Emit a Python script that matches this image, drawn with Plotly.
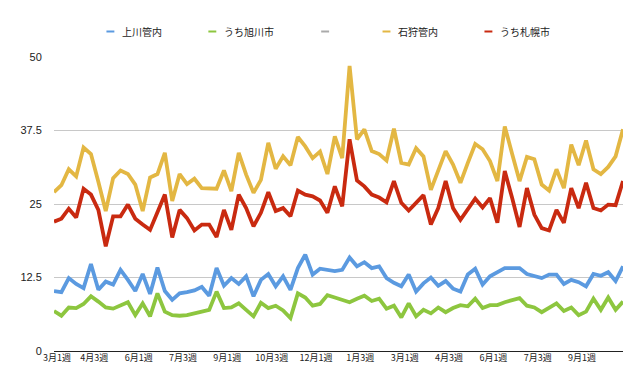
import plotly.graph_objects as go

# ---------------- data ----------------
week_index = list(range(78))
tick_labels = ["3月1週", "4月3週", "6月1週", "7月3週", "9月1週", "10月3週", "12月1週",
               "1月3週", "3月1週", "4月3週", "6月1週", "7月3週", "9月1週"]
y_ticks = [0, 12.5, 25, 37.5, 50]
y_tick_labels = ["0", "12.5", "25", "37.5", "50"]

kamikawa = [10.2, 10.0, 12.4, 11.4, 10.7, 14.8, 10.4, 11.8, 11.3, 13.8,
            12.1, 10.2, 13.1, 9.7, 14.2, 10.2, 8.7, 9.8, 10.0, 10.3,
            10.9, 9.4, 14.1, 11.1, 12.4, 11.4, 12.7, 9.3, 12.1, 13.1,
            11.0, 12.7, 10.4, 14.1, 16.4, 13.0, 14.0, 13.8, 13.6, 13.8,
            15.9, 14.4, 15.1, 14.1, 14.4, 12.4, 11.6, 11.0, 13.0, 10.1,
            11.5, 12.5, 11.1, 11.9, 10.6, 10.1, 13.0, 14.0, 11.3, 12.7,
            13.4, 14.1, 14.1, 14.1, 13.1, 12.8, 12.4, 13.0, 13.0, 11.4,
            12.1, 11.7, 11.0, 13.1, 12.8, 13.4, 11.9, 14.4]

asahikawa = [6.8, 6.0, 7.4, 7.3, 8.0, 9.3, 8.4, 7.4, 7.2, 7.8,
             8.3, 6.1, 8.1, 5.9, 9.8, 6.7, 6.1, 6.0, 6.1, 6.4,
             6.7, 7.0, 10.1, 7.3, 7.4, 8.1, 7.0, 5.9, 8.2, 7.3,
             7.7, 6.9, 5.6, 9.8, 9.1, 7.7, 8.0, 9.5, 9.1, 8.7,
             8.3, 8.9, 9.4, 8.5, 8.9, 7.2, 7.7, 5.7, 8.1, 5.9,
             7.0, 6.4, 7.4, 6.6, 7.3, 7.8, 7.6, 8.9, 7.3, 7.8,
             7.8, 8.3, 8.7, 9.0, 7.7, 7.4, 6.6, 7.4, 8.1, 6.8,
             7.4, 6.1, 6.7, 8.9, 7.0, 9.1, 7.0, 8.4]

ishikari = [27.0, 28.2, 30.9, 29.7, 34.6, 33.5, 28.8, 23.8, 29.4, 30.7,
            30.1, 28.3, 23.8, 29.5, 30.1, 33.7, 25.5, 30.1, 28.4, 29.3,
            27.7, 27.6, 27.6, 30.7, 27.2, 33.7, 30.0, 26.9, 29.1, 35.4,
            31.0, 33.1, 31.6, 36.4, 34.8, 32.8, 33.9, 30.1, 36.5, 32.8,
            48.5, 36.0, 37.7, 34.0, 33.5, 32.4, 37.8, 32.0, 31.7, 34.5,
            33.1, 27.4, 30.6, 34.0, 31.7, 28.6, 32.0, 35.2, 34.3, 32.3,
            28.9, 38.2, 33.5, 28.9, 33.0, 32.6, 28.3, 27.3, 30.9, 27.7,
            35.1, 31.6, 35.8, 30.9, 30.1, 31.3, 33.1, 37.7]

sapporo = [22.0, 22.5, 24.2, 22.7, 27.6, 26.6, 24.0, 17.8, 22.9, 22.9,
           24.9, 22.5, 21.5, 20.6, 23.6, 26.6, 19.3, 24.0, 22.6, 20.5,
           21.5, 21.5, 19.4, 24.0, 20.6, 26.6, 24.3, 21.2, 23.5, 27.0,
           23.8, 24.3, 22.9, 27.3, 26.6, 26.3, 25.6, 23.5, 28.0, 24.6,
           36.0, 29.0, 28.0, 26.6, 26.1, 25.3, 28.9, 25.2, 23.9, 25.3,
           26.5, 21.5, 24.3, 28.9, 24.3, 22.3, 24.0, 25.9, 24.4, 26.0,
           21.8, 30.6, 26.0, 21.1, 27.7, 23.2, 20.9, 20.5, 24.0, 21.8,
           27.7, 24.3, 28.6, 24.3, 23.9, 24.9, 24.8, 28.9]

series_names = ["上川管内", "うち旭川市", "", "石狩管内", "うち札幌市"]
series_values = [kamikawa, asahikawa, None, ishikari, sapporo]
series_colors = ["#5b9ae0", "#8dc63f", "#aaaaaa", "#e3b743", "#c92a10"]

# ---------------- figure ----------------
W, H = 639, 375
L, R, T, B = 40, 24, 49, 32
PW, PH = W - L - R, H - T - B

# x tick label positions: every 6th week; the first label is nudged right as in the reference
tick_positions = [i * 6 for i in range(len(tick_labels))]
tick_positions[0] = 0.95

fig = go.Figure()
for name, vals, col in zip(series_names, series_values, series_colors):
    if vals is None:
        continue
    fig.add_trace(go.Scatter(x=week_index, y=vals, mode="lines", name=name,
                             line=dict(color=col, width=3.8), showlegend=False,
                             hoverinfo="skip"))

def px_to_paper_x(px):
    return (px - L) / PW

def px_to_paper_y(py):
    return (H - B - py) / PH

# custom legend (pixel positions measured from reference)
legend_sym_x = [93, 196, 310, 372, 475]
legend_y = 23.5
shapes = []
annotations = []
for i, (name, col) in enumerate(zip(series_names, series_colors)):
    sx = legend_sym_x[i]
    shapes.append(dict(type="line", xref="paper", yref="paper",
                       x0=px_to_paper_x(sx), x1=px_to_paper_x(sx + 8),
                       y0=px_to_paper_y(legend_y), y1=px_to_paper_y(legend_y),
                       line=dict(color=col, width=2)))
    if name:
        annotations.append(dict(text=name, xref="paper", yref="paper",
                                x=px_to_paper_x(sx + 14), y=px_to_paper_y(legend_y),
                                xanchor="left", yanchor="middle", showarrow=False,
                                font=dict(family="Noto Sans CJK JP", size=10, color="#222222")))

fig.update_layout(
    width=W, height=H,
    margin=dict(l=L, r=R, t=T, b=B, pad=0),
    paper_bgcolor="white", plot_bgcolor="white",
    shapes=shapes, annotations=annotations,
    showlegend=False,
    xaxis=dict(range=[0, 77], tickvals=tick_positions, ticktext=tick_labels,
               showgrid=False, zeroline=False, showline=True, linecolor="#222222",
               linewidth=1.3, ticks="", tickangle=0, ticklabelshift=-4,
               ticklabelstandoff=-2,
               tickfont=dict(family="Noto Sans CJK JP", size=9, color="#222222")),
    yaxis=dict(range=[0, 50], tickvals=y_ticks, ticktext=y_tick_labels,
               showgrid=True, gridcolor="#c8c8c8", gridwidth=1, zeroline=False,
               showline=False, ticks="outside", ticklen=9, tickcolor="rgba(0,0,0,0)",
               tickfont=dict(family="Liberation Sans, Noto Sans CJK JP", size=11, color="#222222")),
)

fig.write_html("out.html")
